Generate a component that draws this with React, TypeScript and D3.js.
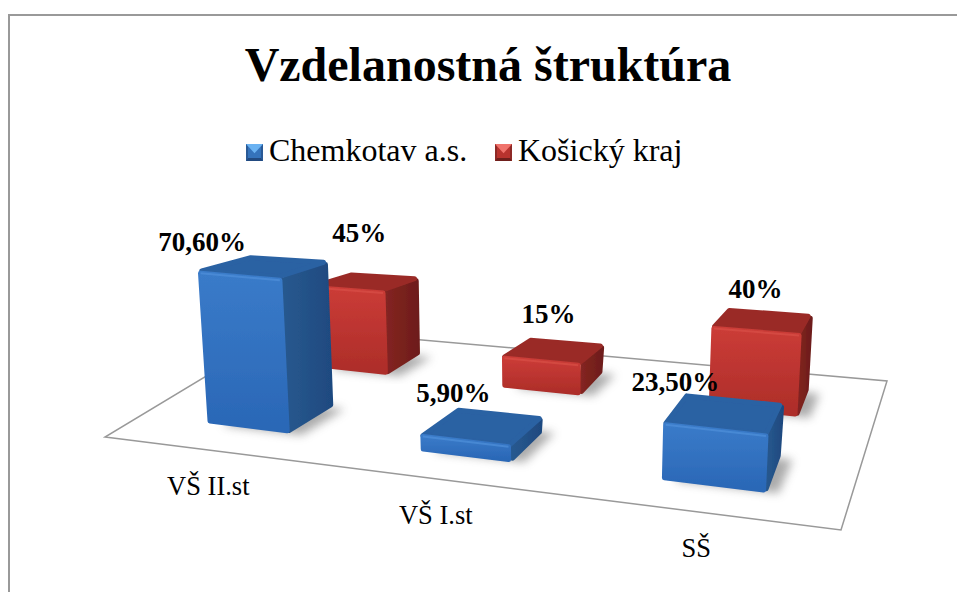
import React from "react";
import * as d3 from "d3";

const categories = ["VŠ II.st", "VŠ I.st", "SŠ"];
const seriesNames = ["Chemkotav a.s.", "Košický kraj"];
const chemkotav = [70.6, 5.9, 23.5];
const kosice = [45, 15, 40];
const chemkotavLabels = ["70,60%", "5,90%", "23,50%"];
const kosiceLabels = ["45%", "15%", "40%"];

const SERIF = "'Liberation Serif','Times New Roman',serif";

type Pt = [number, number];
// unit square -> screen quad, used for the floor outline and the bars' ground plane
const makePlane = (FL: Pt, FR: Pt, BR: Pt, BL: Pt) => {
  const s = [FL[0] - FR[0] + BR[0] - BL[0], FL[1] - FR[1] + BR[1] - BL[1]];
  const d1 = [FR[0] - BR[0], FR[1] - BR[1]];
  const d2 = [BL[0] - BR[0], BL[1] - BR[1]];
  const det = d1[0] * d2[1] - d2[0] * d1[1];
  const g = (s[0] * d2[1] - d2[0] * s[1]) / det;
  const h = (d1[0] * s[1] - s[0] * d1[1]) / det;
  const A = FR[0] - FL[0] + g * FR[0], B = BL[0] - FL[0] + h * BL[0];
  const D = FR[1] - FL[1] + g * FR[1], E = BL[1] - FL[1] + h * BL[1];
  return (u: number, v: number): Pt => {
    const w = g * u + h * v + 1;
    return [(A * u + B * v + FL[0]) / w, (D * u + E * v + FL[1]) / w];
  };
};
const floorQuad: Pt[] = [[105, 437], [841, 530], [887, 381], [286, 328]];
const axisPlane = makePlane(floorQuad[0], floorQuad[1], floorQuad[2], floorQuad[3]);
const floor = makePlane([107, 436], [844, 532], [877, 382], [327, 332]);

const uScale = d3.scaleBand<number>().domain([0, 1, 2]).range([0, 1]).paddingInner(0.61).paddingOuter(0.305);
const vScale = d3.scaleBand<number>().domain([0, 1]).range([0, 1]).paddingInner(0.6).paddingOuter(0.3);
const hScale = d3.scaleLinear().domain([0, 100]).range([0, 100]);
const V: Pt = [530, 5500];

const lift = (p: Pt, u: number, v: number, val: number): Pt => {
  const px = (2.23 + 0.3 * u - 0.7 * v) * hScale(val);
  const t = px / (V[1] - p[1]);
  return [p[0] + (p[0] - V[0]) * t, p[1] - px];
};

const line = d3.line();
const inset = (pts: Pt[], r: number): Pt[] => {
  const cx = d3.mean(pts, (p) => p[0])!, cy = d3.mean(pts, (p) => p[1])!;
  return pts.map(([x, y]) => {
    const dx = x - cx, dy = y - cy, l = Math.hypot(dx, dy) || 1;
    const k = Math.min(r / l, 0.4);
    return [x - dx * k, y - dy * k] as Pt;
  });
};
const path = (pts: Pt[]) => line(pts)! + "Z";

type Bar = { key: string; series: number; cat: number; val: number; label: string };
const bars: Bar[] = [
  ...kosice.map((val, cat) => ({ key: `r${cat}`, series: 1, cat, val, label: kosiceLabels[cat] })),
  ...chemkotav.map((val, cat) => ({ key: `b${cat}`, series: 0, cat, val, label: chemkotavLabels[cat] })),
];

const palettes = [
  { front: "url(#blueFront)", side: "url(#blueSide)", top: "#2c62a3", edge: "#4f90da" },
  { front: "url(#redFront)", side: "url(#redSide)", top: "#9a2c28", edge: "#d84e47" },
];
const labelNudge: Record<string, Pt> = {
  b0: [-62, -24], b1: [-29, -34], b2: [-49, -32],
  r0: [-7, -49], r1: [-5, -37], r2: [-7, -32],
};

function geometry(b: Bar) {
  const u0 = uScale(b.cat)!, u1 = u0 + uScale.bandwidth();
  const v0 = vScale(b.series)!, v1 = v0 + vScale.bandwidth();
  const um = (u0 + u1) / 2, vm = (v0 + v1) / 2;
  const f = [floor(u0, v0), floor(u1, v0), floor(u1, v1), floor(u0, v1)];
  const t = [lift(f[0], u0, v0, b.val), lift(f[1], u1, v0, b.val), lift(f[2], u1, v1, b.val), lift(f[3], u0, v1, b.val)];
  const c = lift(floor(um, vm), um, vm, b.val);
  return { f, t, c };
}

function Cuboid({ b }: { b: Bar }) {
  const { f, t } = geometry(b);
  const pal = palettes[b.series];
  const sh = (p: Pt): Pt => [p[0] + 13, p[1] + 2];
  const r = Math.min(2.5, Math.abs(f[1][1] - t[1][1]) / 3);
  return (
    <g>
      <path d={path(f.map(sh))} fill="#666" opacity={0.55} filter="url(#soft)" />
      <g strokeLinejoin="round" filter="url(#tiny)">
        <path d={path(inset([f[1], f[2], t[2], t[1]], r))} fill={pal.side} stroke={pal.side} strokeWidth={2 * r} />
        <path d={path(inset([t[0], t[1], t[2], t[3]], r))} fill={pal.top} stroke={pal.top} strokeWidth={2 * r} />
        <path d={path(inset([f[0], f[1], t[1], t[0]], r))} fill={pal.front} stroke={pal.front} strokeWidth={2 * r} />
        <path d={line(inset([t[0], t[1], f[1], f[0]], r).slice(0, 2))!} fill="none" stroke={pal.edge} strokeOpacity={0.7} strokeWidth={2} />
      </g>
    </g>
  );
}

function ValueLabel({ b }: { b: Bar }) {
  const { c } = geometry(b);
  const n = labelNudge[b.key];
  return (
    <text x={c[0] + n[0]} y={c[1] + n[1]} textAnchor="middle" dominantBaseline="central"
      fontFamily={SERIF} fontWeight={700} fontSize={27} fill="#000">{b.label}</text>
  );
}

function LegendSwatch({ x, i }: { x: number; i: number }) {
  const y = 144, w = 17;
  const fills = i === 0 ? ["#2a5a96", "#6ab2f2", "#224a80", "#3573bb"] : ["#8e2a27", "#f0736c", "#6f1f1c", "#b8332e"];
  return (
    <g>
      <rect x={x} y={y} width={w} height={w} fill={fills[3]} />
      <path d={`M${x},${y}H${x + w}L${x + w / 2},${y + w * 0.55}Z`} fill={fills[1]} />
      <path d={`M${x},${y}L${x + 2},${y + 3}V${y + w - 3}L${x},${y + w}Z`} fill={fills[0]} />
      <path d={`M${x + w},${y}L${x + w - 2},${y + 3}V${y + w - 3}L${x + w},${y + w}Z`} fill={fills[0]} />
      <path d={`M${x},${y + w}H${x + w}L${x + w - 2},${y + w - 3}H${x + 2}Z`} fill={fills[2]} />
    </g>
  );
}

export default function App() {
  return (
    <svg width={957} height={592} style={{ position: "absolute", left: 0, top: 0, background: "#fff" }}>
      <defs>
        <linearGradient id="blueFront" x1="0" y1="0" x2="0" y2="1">
          <stop offset="0" stopColor="#3a7bc9" /><stop offset="1" stopColor="#2a67b6" />
        </linearGradient>
        <linearGradient id="blueSide" x1="0" y1="0" x2="1" y2="0">
          <stop offset="0" stopColor="#28598f" /><stop offset="1" stopColor="#1f4a80" />
        </linearGradient>
        <linearGradient id="redFront" x1="0" y1="0" x2="0" y2="1">
          <stop offset="0" stopColor="#cb3c37" /><stop offset="1" stopColor="#ad2d29" />
        </linearGradient>
        <linearGradient id="redSide" x1="0" y1="0" x2="1" y2="0">
          <stop offset="0" stopColor="#842521" /><stop offset="1" stopColor="#6e1d1a" />
        </linearGradient>
        <filter id="soft" x="-30%" y="-30%" width="160%" height="160%"><feGaussianBlur stdDeviation="5" /></filter>
        <filter id="tiny" x="-10%" y="-10%" width="120%" height="120%"><feGaussianBlur stdDeviation="0.7" /></filter>
      </defs>
      <path d="M9,592V15H957" fill="none" stroke="#999" strokeWidth={2} />
      <text x={488} y={81} textAnchor="middle" fontFamily={SERIF} fontWeight={700} fontSize={48}>Vzdelanostná štruktúra</text>
      <LegendSwatch x={246} i={0} />
      <text x={269} y={161} fontFamily={SERIF} fontSize={32}>{seriesNames[0]}</text>
      <LegendSwatch x={495} i={1} />
      <text x={518} y={161} fontFamily={SERIF} fontSize={32}>{seriesNames[1]}</text>
      <path d={path(floorQuad)} fill="#fff" stroke="#999" strokeWidth={1.5} />
      {categories.map((c, i) => {
        const u = uScale(i)! + uScale.bandwidth() / 2;
        const p = axisPlane(u, 0);
        return (
          <text key={c} x={p[0]} y={p[1] + 36} textAnchor="middle" dominantBaseline="central"
            fontFamily={SERIF} fontSize={26.5}>{c}</text>
        );
      })}
      {bars.map((b) => <Cuboid key={b.key} b={b} />)}
      {bars.map((b) => <ValueLabel key={b.key} b={b} />)}
    </svg>
  );
}
